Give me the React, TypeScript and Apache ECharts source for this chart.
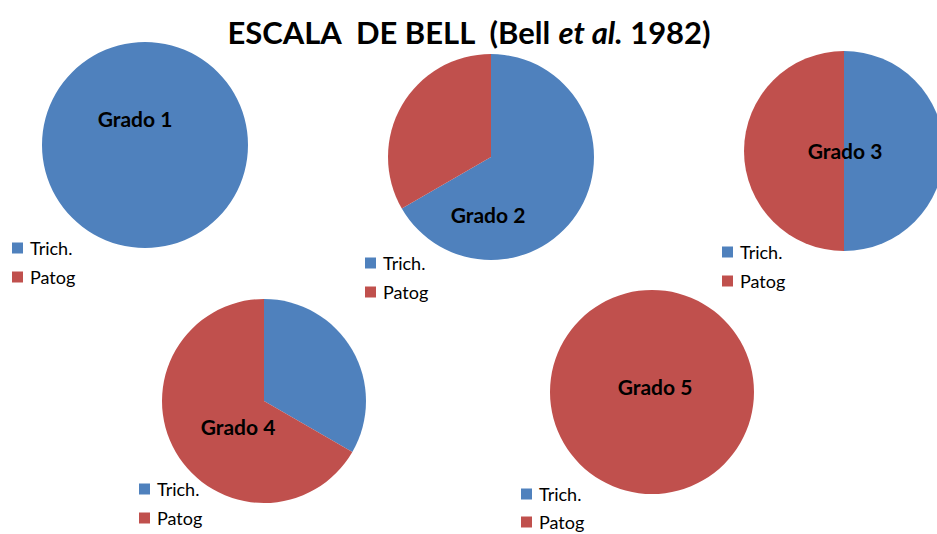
import React, { useEffect, useRef } from "react";
import * as echarts from "echarts";

const categories = ["Trich.", "Patog"];
const grades = ["Grado 1", "Grado 2", "Grado 3", "Grado 4", "Grado 5"];
const trichValues = [1, 2, 1, 1, 0];
const patogValues = [0, 1, 1, 2, 1];
const colors = ["#4F81BD", "#C0504D"];

// layout (pixels)
const pieCenters: [number, number][] = [
  [145, 145],
  [491, 157],
  [844, 151],
  [264, 401],
  [652, 392],
];
const pieRadii = [103, 103, 100, 102, 102];
const labelPos: [number, number][] = [
  [135, 118],
  [488, 214],
  [845, 150],
  [238, 426],
  [655, 386],
];
const legendPos: [number, number, number, number][] = [
  [12, 239, 11, 18],
  [365, 254, 11, 18],
  [722, 243, 11, 18],
  [139, 480, 11, 18],
  [521, 485, 10, 16],
];

const FONT = "Lato, 'Open Sans', sans-serif";

export default function App() {
  const ref = useRef<HTMLDivElement>(null);
  useEffect(() => {
    if (!ref.current) return;
    const chart = echarts.init(ref.current, null, { renderer: "svg" });
    const series = grades.map((g, i) => ({
      type: "pie",
      name: g,
      center: pieCenters[i],
      radius: [0, pieRadii[i]],
      startAngle: 90,
      clockwise: true,
      label: { show: false },
      labelLine: { show: false },
      emphasis: { disabled: true },
      itemStyle: { borderWidth: 0 },
      data: categories.map((c, k) => ({
        name: c,
        value: k === 0 ? trichValues[i] : patogValues[i],
      })),
    }));
    const legends = legendPos.map(([x, y, gap, lh]) => ({
      orient: "vertical",
      left: x,
      top: y,
      height: 60,
      data: categories,
      icon: "rect",
      itemWidth: 11,
      itemHeight: 11,
      itemGap: gap,
      padding: 0,
      selectedMode: false,
      textStyle: {
        fontFamily: FONT,
        fontSize: 18,
        lineHeight: lh,
        color: "#000",
        padding: [0, 0, 0, 2],
      },
    }));
    const graphics = grades.map((g, i) => ({
      type: "text",
      x: labelPos[i][0],
      y: labelPos[i][1],
      z: 100,
      style: {
        text: g,
        fontFamily: FONT,
        fontSize: 21,
        fontWeight: "bold",
        fill: "#000",
        align: "center",
        verticalAlign: "middle",
      },
    }));
    chart.setOption({
      animation: false,
      color: colors,
      title: {
        left: "center",
        top: 11,
        text: "{a|ESCALA  DE BELL  (Bell }{b|et al.}{a| 1982)}",
        textStyle: {
          rich: {
            a: { fontFamily: FONT, fontSize: 31, fontWeight: "bold", color: "#000" },
            b: {
              fontFamily: FONT,
              fontSize: 31,
              fontWeight: "bold",
              fontStyle: "italic",
              color: "#000",
            },
          },
        },
      },
      legend: legends,
      series,
      graphic: graphics,
    });
    return () => chart.dispose();
  }, []);
  return <div ref={ref} style={{ width: 937, height: 534, position: "absolute", left: 0, top: 0, background: "#fff" }} />;
}
